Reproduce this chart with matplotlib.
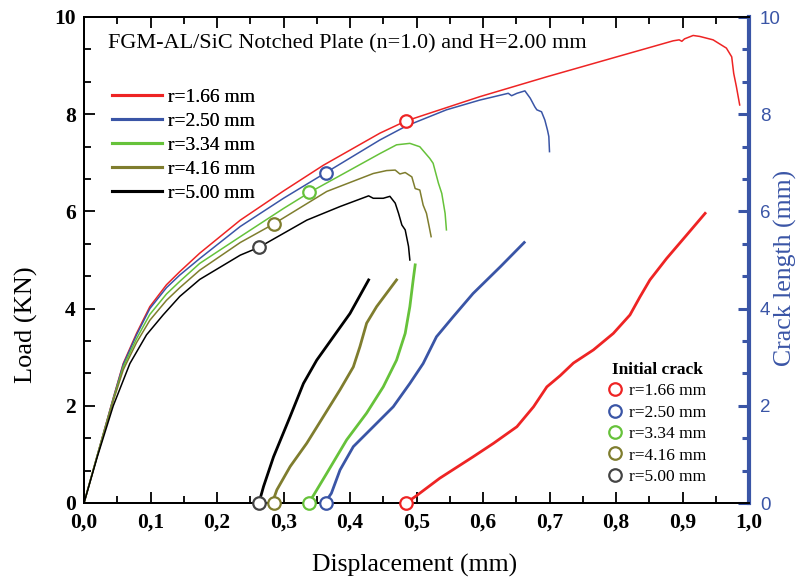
import matplotlib
matplotlib.use("Agg")
import matplotlib.pyplot as plt
from matplotlib.ticker import MultipleLocator, FuncFormatter
from matplotlib.lines import Line2D

# ---- radii and colours ----
labels = ["r=1.66 mm", "r=2.50 mm", "r=3.34 mm", "r=4.16 mm", "r=5.00 mm"]
colors = ["#ee2424", "#3a55a6", "#66c23a", "#7f7d2e", "#000000"]
marker_edge = ["#ee2424", "#3a55a6", "#66c23a", "#7f7d2e", "#444444"]

# ---- load-displacement curves (KN vs mm) ----
load_x_166 = [0, 0.02, 0.044, 0.059, 0.079, 0.099, 0.124, 0.144, 0.174, 0.235, 0.30, 0.36,
              0.445, 0.484, 0.595, 0.696, 0.796, 0.886, 0.895, 0.899, 0.903, 0.916, 0.926,
              0.946, 0.966, 0.974, 0.977, 0.981, 0.986]
load_y_166 = [0, 0.98, 2.16, 2.87, 3.49, 4.04, 4.49, 4.76, 5.14, 5.82, 6.42, 6.95,
              7.61, 7.86, 8.36, 8.77, 9.16, 9.51, 9.53, 9.50, 9.55, 9.62, 9.60,
              9.53, 9.36, 9.18, 8.84, 8.57, 8.19]

load_x_250 = [0, 0.02, 0.044, 0.059, 0.079, 0.099, 0.124, 0.144, 0.174, 0.235, 0.30, 0.364,
              0.445, 0.485, 0.545, 0.595, 0.638, 0.643, 0.651, 0.663, 0.671, 0.678, 0.681,
              0.688, 0.693, 0.697, 0.699, 0.700]
load_y_250 = [0, 0.98, 2.15, 2.85, 3.46, 4.00, 4.43, 4.69, 5.03, 5.69, 6.27, 6.80,
              7.47, 7.76, 8.09, 8.29, 8.43, 8.38, 8.43, 8.48, 8.33, 8.15, 8.09,
              8.05, 7.88, 7.67, 7.54, 7.23]

load_x_334 = [0, 0.02, 0.044, 0.059, 0.079, 0.099, 0.124, 0.144, 0.174, 0.235, 0.30, 0.339,
              0.40, 0.445, 0.47, 0.49, 0.505, 0.520, 0.525, 0.533, 0.538, 0.543, 0.545]
load_y_334 = [0, 0.98, 2.13, 2.80, 3.38, 3.88, 4.30, 4.56, 4.93, 5.48, 6.06, 6.39,
              6.85, 7.19, 7.37, 7.40, 7.33, 7.09, 6.99, 6.58, 6.37, 5.96, 5.62]

load_x_416 = [0, 0.02, 0.044, 0.059, 0.079, 0.099, 0.124, 0.144, 0.174, 0.235, 0.285, 0.365,
              0.435, 0.455, 0.468, 0.475, 0.483, 0.493, 0.498, 0.505, 0.510, 0.515, 0.519, 0.522]
load_y_416 = [0, 0.97, 2.10, 2.74, 3.30, 3.76, 4.17, 4.43, 4.79, 5.36, 5.74, 6.41,
              6.78, 6.84, 6.85, 6.77, 6.80, 6.71, 6.47, 6.44, 6.13, 5.96, 5.69, 5.48]

load_x_500 = [0, 0.02, 0.044, 0.069, 0.094, 0.119, 0.144, 0.174, 0.235, 0.263, 0.335, 0.385,
              0.428, 0.435, 0.45, 0.46, 0.468, 0.473, 0.478, 0.483, 0.488, 0.490]
load_y_500 = [0, 0.95, 2.00, 2.87, 3.46, 3.87, 4.25, 4.60, 5.10, 5.26, 5.82, 6.10,
              6.32, 6.27, 6.27, 6.31, 6.17, 5.96, 5.72, 5.62, 5.28, 5.00]

# ---- crack growth curves (mm vs mm) ----
crack_x_166 = [0.484, 0.498, 0.535, 0.585, 0.616, 0.651, 0.676, 0.696, 0.716, 0.736, 0.766,
               0.796, 0.821, 0.836, 0.851, 0.876, 0.906, 0.934]
crack_y_166 = [0, 0.13, 0.51, 0.95, 1.23, 1.57, 1.98, 2.39, 2.62, 2.88, 3.15,
               3.49, 3.87, 4.24, 4.59, 5.03, 5.51, 5.96]

crack_x_250 = [0.362, 0.372, 0.385, 0.405, 0.435, 0.465, 0.49, 0.51, 0.53, 0.555, 0.585, 0.626, 0.662]
crack_y_250 = [0, 0.20, 0.68, 1.16, 1.57, 1.98, 2.46, 2.87, 3.42, 3.83, 4.31, 4.86, 5.36]

crack_x_334 = [0.338, 0.347, 0.365, 0.395, 0.425, 0.45, 0.47, 0.483, 0.49, 0.495, 0.498]
crack_y_334 = [0, 0.20, 0.61, 1.30, 1.85, 2.39, 2.94, 3.49, 4.04, 4.59, 4.90]

crack_x_416 = [0.283, 0.29, 0.31, 0.335, 0.36, 0.385, 0.405, 0.415, 0.425, 0.44, 0.47]
crack_y_416 = [0, 0.27, 0.75, 1.23, 1.78, 2.33, 2.80, 3.22, 3.70, 4.04, 4.59]

crack_x_500 = [0.263, 0.27, 0.285, 0.31, 0.33, 0.35, 0.375, 0.40, 0.428]
crack_y_500 = [0, 0.34, 0.95, 1.78, 2.46, 2.94, 3.42, 3.90, 4.59]

# ---- crack initiation points ----
init_disp = [0.484, 0.364, 0.339, 0.285, 0.263]
init_load = [7.86, 6.80, 6.39, 5.74, 5.26]

load_curves = [(load_x_166, load_y_166), (load_x_250, load_y_250), (load_x_334, load_y_334),
               (load_x_416, load_y_416), (load_x_500, load_y_500)]
crack_curves = [(crack_x_166, crack_y_166), (crack_x_250, crack_y_250), (crack_x_334, crack_y_334),
                (crack_x_416, crack_y_416), (crack_x_500, crack_y_500)]

SERIF = "Liberation Serif"
SANS = "Liberation Sans"
AXIS_BLUE = "#3a55a6"

W, H = 798, 585
fig = plt.figure(figsize=(W / 100, H / 100), dpi=100)
ax = fig.add_axes([84 / W, 1 - 503 / H, (749 - 84) / W, (503 - 17) / H])
ax2 = ax.twinx()

for (x, y), c in zip(load_curves, colors):
    ax.plot(x, y, color=c, lw=1.1, zorder=3)
for (x, y), c in zip(crack_curves, colors):
    ax2.plot(x, y, color=c, lw=2.0, zorder=3)

for d, l, ec in zip(init_disp, init_load, marker_edge):
    ax.plot([d], [l], "o", ms=9, mfc="white", mec=ec, mew=1.6, zorder=5)
    ax2.plot([d], [0], "o", ms=9, mfc="white", mec=ec, mew=1.6, zorder=5, clip_on=False)

ax.set_xlim(0, 1.0)
ax.set_ylim(0, 10)
ax2.set_ylim(0, 10)

ax.xaxis.set_major_locator(MultipleLocator(0.1))
ax.xaxis.set_minor_locator(MultipleLocator(0.05))
ax.xaxis.set_major_formatter(FuncFormatter(lambda v, p: f"{v:.1f}".replace(".", ",")))
ax.yaxis.set_major_locator(MultipleLocator(2))
ax.yaxis.set_minor_locator(MultipleLocator(2 / 3))
ax2.yaxis.set_major_locator(MultipleLocator(2))
ax2.yaxis.set_minor_locator(MultipleLocator(2 / 3))

ax.tick_params(axis="x", which="both", direction="in", top=True, labelsize=15.5, width=1.3, pad=7)
ax.tick_params(axis="x", which="major", length=8)
ax.tick_params(axis="x", which="minor", length=5)
ax.tick_params(axis="y", which="both", direction="in", labelsize=15.5, width=1.3, pad=6)
ax.tick_params(axis="y", which="major", length=8)
ax.tick_params(axis="y", which="minor", length=5)
for lab in ax.get_xticklabels() + ax.get_yticklabels():
    lab.set_fontfamily(SERIF)
    lab.set_fontweight("bold")

ax2.tick_params(axis="y", which="both", direction="in", colors=AXIS_BLUE, labelsize=13.5,
                width=2.2, pad=8)
ax2.tick_params(axis="y", which="major", length=8)
ax2.tick_params(axis="y", which="minor", length=5)
for lab in ax2.get_yticklabels():
    lab.set_fontfamily(SANS)

for s in ["left", "bottom", "top"]:
    ax.spines[s].set_linewidth(1.4)
    ax2.spines[s].set_linewidth(1.4)
ax.spines["right"].set_visible(False)
ax2.spines["right"].set_color(AXIS_BLUE)
ax2.spines["right"].set_linewidth(3.0)

# axis titles
fig.text(415 / W, 1 - 565 / H, "Displacement (mm)", fontfamily=SERIF, fontsize=18.5,
         ha="center", va="center")
fig.text(26 / W, 1 - 325 / H, "Load (KN)", fontfamily=SERIF, fontsize=19,
         ha="center", va="center", rotation=90)
fig.text(785 / W, 1 - 268 / H, "Crack length (mm)", fontfamily=SERIF, fontsize=18.5,
         color=AXIS_BLUE, ha="center", va="center", rotation=90)

ax.text(0.036, 0.945, "FGM-AL/SiC Notched Plate (n=1.0) and H=2.00 mm",
        transform=ax.transAxes, fontfamily=SERIF, fontsize=16, va="center", ha="left")

line_handles = [Line2D([], [], color=c, lw=2.2) for c in colors]
leg1 = ax.legend(line_handles, labels, loc="upper left", bbox_to_anchor=(0.042, 0.853),
                 frameon=False, prop={"family": SERIF, "size": 14}, handlelength=2.6,
                 handletextpad=0.3, labelspacing=0.33, borderaxespad=0, borderpad=0)
ax.add_artist(leg1)

mark_handles = [Line2D([], [], ls="none", marker="o", ms=9, mfc="white", mec=ec, mew=1.6)
                for ec in marker_edge]
leg2 = ax2.legend(mark_handles, labels, loc="upper left", bbox_to_anchor=(0.788, 0.29),
                  frameon=False, prop={"family": SERIF, "size": 12.5}, handlelength=0.8,
                  handletextpad=0.4, labelspacing=0.3, borderaxespad=0, borderpad=0,
                  title="Initial crack",
                  title_fontproperties={"family": SERIF, "size": 12.5, "weight": "bold"})

fig.savefig("out.png", dpi=100)
